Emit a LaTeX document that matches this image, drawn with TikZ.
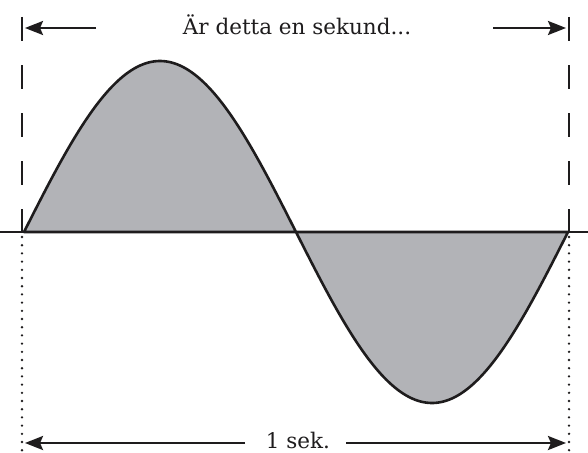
\documentclass[tikz,border=0pt]{standalone}
\usepackage{fontspec}
\setmainfont{DejaVu Serif}
\usetikzlibrary{arrows.meta}
\definecolor{wavefill}{RGB}{178,179,183}
\definecolor{ink}{RGB}{30,28,29}
\tikzset{
  lbl/.style={anchor=base, inner sep=0pt, font=\fontsize{21.5}{24}\selectfont, text=ink},
  arr/.style={draw=ink, line width=2.6pt, -{Stealth[length=18pt,width=14pt,inset=3pt]}},
  dashline/.style={draw=ink, line width=2.8pt, dash pattern=on 24pt off 24pt},
  dotline/.style={draw=ink, line width=2.6pt, line cap=round, dash pattern=on 0pt off 8.2pt},
  wave/.style={draw=ink, line width=2.6pt, fill=wavefill, line join=round},
  axisline/.style={draw=ink, line width=2.6pt}
}
\begin{document}
\begin{tikzpicture}[x=1pt,y=-1pt]
\useasboundingbox (0,0) rectangle (588,452);
% wave
\path[wave] plot[domain=24:568, samples=240, smooth] (\x, {232 - 171*sin((\x-24)/544*360)}) -- cycle;
% axis
\coordinate (axl) at (0,232);
\coordinate (axr) at (588,232);
\draw[axisline] (axl) -- (axr);
% dashed verticals
\coordinate (dlt) at (22,17);
\coordinate (dlb) at (22,232);
\coordinate (drt) at (569,17);
\coordinate (drb) at (569,232);
\draw[dashline] (dlt) -- (dlb);
\draw[dashline] (drt) -- (drb);
% dotted verticals
\coordinate (olt) at (22,237);
\coordinate (olb) at (22,452);
\coordinate (ort) at (569,237);
\coordinate (orb) at (569,452);
\draw[dotline] (olt) -- (olb);
\draw[dotline] (ort) -- (orb);
% top label and arrows
\node[lbl] (top) at (297,35) {Är detta en sekund...};
\coordinate (tls) at (96,28);
\coordinate (tle) at (25,28);
\coordinate (trs) at (493,28);
\coordinate (tre) at (566,28);
\draw[arr] (tls) -- (tle);
\draw[arr] (trs) -- (tre);
% bottom label and arrows
\node[lbl] (bot) at (298,448) {1 sek.};
\coordinate (bls) at (245,443);
\coordinate (ble) at (25,443);
\coordinate (brs) at (346,443);
\coordinate (bre) at (566,443);
\draw[arr] (bls) -- (ble);
\draw[arr] (brs) -- (bre);
\end{tikzpicture}
\end{document}
